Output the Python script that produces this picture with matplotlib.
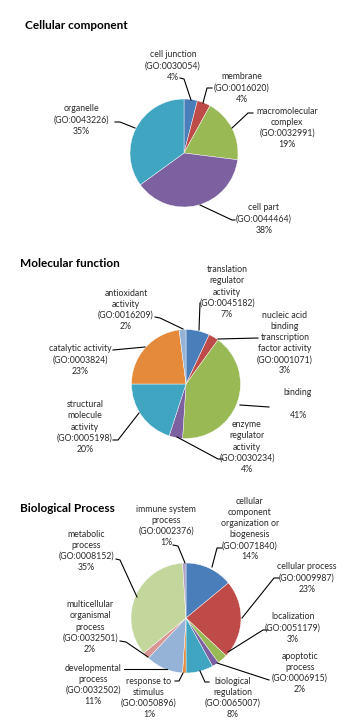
import matplotlib.pyplot as plt

plt.rcParams['font.family'] = ['Lato', 'DejaVu Sans']

# colours (Excel-2007 style palette)
c_blue, c_red, c_green, c_purple, c_teal, c_orange = '#4A7EBB', '#BE4B48', '#98B954', '#7D60A0', '#3FA5C0', '#E48A3A'
c_lblue, c_pink, c_lgreen, c_lav = '#95B3D7', '#D99694', '#C3D69B', '#B3A2C7'

# Cellular component
cc_labels = ['cell junction\n(GO:0030054)\n4%', 'membrane\n(GO:0016020)\n4%',
             'macromolecular\ncomplex\n(GO:0032991)\n19%', 'cell part\n(GO:0044464)\n38%',
             'organelle\n(GO:0043226)\n35%']
cc_values = [4, 4, 19, 38, 35]
cc_colors = [c_blue, c_red, c_green, c_purple, c_teal]

# Molecular function
mf_labels = ['translation\nregulator\nactivity\n(GO:0045182)\n7%',
             'nucleic acid\nbinding\ntranscription\nfactor activity\n(GO:0001071)\n3%',
             'binding\n\n41%', 'enzyme\nregulator\nactivity\n(GO:0030234)\n4%',
             'structural\nmolecule\nactivity\n(GO:0005198)\n20%',
             'catalytic activity\n(GO:0003824)\n23%', 'antioxidant\nactivity\n(GO:0016209)\n2%']
mf_values = [7, 3, 41, 4, 20, 23, 2]
mf_colors = [c_blue, c_red, c_green, c_purple, c_teal, c_orange, c_lblue]

# Biological process
bp_labels = ['cellular\ncomponent\norganization or\nbiogenesis\n(GO:0071840)\n14%',
             'cellular process\n(GO:0009987)\n23%', 'localization\n(GO:0051179)\n3%',
             'apoptotic\nprocess\n(GO:0006915)\n2%', 'biological\nregulation\n(GO:0065007)\n8%',
             'response to\nstimulus\n(GO:0050896)\n1%', 'developmental\nprocess\n(GO:0032502)\n11%',
             'multicellular\norganismal\nprocess\n(GO:0032501)\n2%',
             'metabolic\nprocess\n(GO:0008152)\n35%', 'immune system\nprocess\n(GO:0002376)\n1%']
bp_values = [14, 23, 3, 2, 8, 1, 11, 2, 35, 1]
bp_colors = [c_blue, c_red, c_green, c_purple, c_teal, c_orange, c_lblue, c_pink, c_lgreen, c_lav]

H = 725


def fy(y):
    return H - y


fig = plt.figure(figsize=(3.47, 7.25), dpi=100)
ax = fig.add_axes([0, 0, 1, 1])

# (values, colours, centre px, radius px, label text positions, leader polylines)
charts = [
    (cc_values, cc_colors, (184, 153), 54,
     [(173, 66), (242, 88), (287, 128), (264, 219), (81, 120)],
     [[(180, 78), (184, 79), (191, 100)], [(212, 88), (207, 88), (203, 103)],
      [(253, 113), (248, 113), (232, 128)], [(235, 220), (232, 220), (200, 205)],
      [(115, 122), (120, 122), (135, 128)]]),
    (mf_values, mf_colors, (186, 384), 54.5,
     [(227, 292), (285, 343), (298, 404), (247, 447), (85, 427), (80, 360), (126, 310)],
     [[(200, 303), (200, 303), (199, 330)], [(258, 338), (218, 339)],
      [(269, 407), (240, 405)], [(223, 459), (218, 459), (177, 437)],
      [(113, 440), (118, 440), (139, 413)], [(113, 350), (145, 347)],
      [(155, 317), (160, 318), (183, 329)]]),
    (bp_values, bp_colors, (186, 618), 55,
     [(250, 529), (307, 578), (293, 628), (300, 673), (233, 698), (149, 698),
      (93, 685), (90, 627), (86, 551), (166, 526)],
     [[(222, 548), (217, 548), (212, 567)], [(279, 578), (274, 578), (242, 618)],
      [(268, 630), (263, 630), (228, 652)], [(269, 680), (217, 663)],
      [(209, 682), (205, 682), (200, 671)], [(175, 681), (179, 681), (183, 673)],
      [(124, 669), (167, 669)], [(120, 641), (126, 642), (148, 657)],
      [(116, 559), (120, 560), (137, 597)], [(173, 545), (178, 546), (185, 563)]]),
]
all_labels = [cc_labels, mf_labels, bp_labels]

for (vals, cols, (cx, cy), r, tpos, leads), labels in zip(charts, all_labels):
    ax.pie(vals, colors=cols, startangle=90, counterclock=False,
           center=(cx, fy(cy)), radius=r,
           wedgeprops=dict(linewidth=0.3, edgecolor='white'))
    for lab, (tx, ty) in zip(labels, tpos):
        ax.text(tx, fy(ty), lab, ha='center', va='center', fontsize=6.3,
                color='#2a2a2a', linespacing=1.3)
    for pts in leads:
        ax.plot([p[0] for p in pts], [fy(p[1]) for p in pts], color='black', lw=0.8)

titles = [('Cellular component', 25, 25), ('Molecular function', 20, 263),
          ('Biological Process', 20, 509)]
for t, x, y in titles:
    ax.text(x, fy(y), t, ha='left', va='center', fontsize=8.5, fontweight='bold', color='black')

ax.set_xlim(0, 347)
ax.set_ylim(0, H)
ax.set_aspect('equal')
ax.axis('off')

fig.savefig('out.png', dpi=100)
